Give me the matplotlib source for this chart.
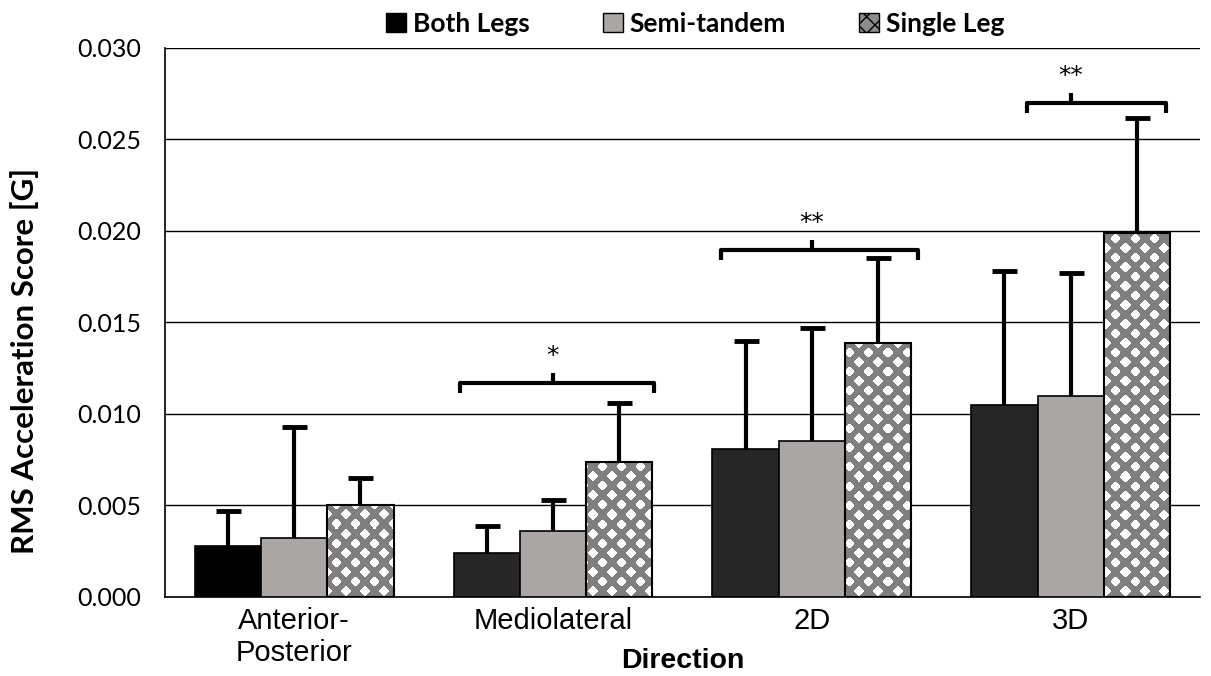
import numpy as np
import matplotlib
matplotlib.use('Agg')
import matplotlib.pyplot as plt
from matplotlib.patches import Patch

# data
directions = ['Anterior-\nPosterior', 'Mediolateral', '2D', '3D']
series = ['Both Legs', 'Semi-tandem', 'Single Leg']
both_legs = [0.0028, 0.0024, 0.0081, 0.0105]
semi_tandem = [0.0032, 0.0036, 0.0085, 0.0110]
single_leg = [0.0050, 0.0074, 0.0139, 0.0199]
both_sd = [0.0019, 0.0015, 0.0059, 0.0073]
semi_sd = [0.0061, 0.0017, 0.0062, 0.0067]
single_sd = [0.0015, 0.0032, 0.0046, 0.0063]

# significance brackets: (x start offset, x end offset, group, level, label)
brackets = [(-0.36, 0.39, 1, 0.01169, '*'),
            (-0.35, 0.41, 2, 0.01896, '**'),
            (-0.17, 0.37, 3, 0.0270, '**')]

LEFT, RIGHT, BOTTOM, TOP = 0.136, 0.991, 0.117, 0.929


def pattern(w, h, p=19.0, r=0.29, n=4.0):
	yy, xx = np.mgrid[0:h, 0:w].astype(float)
	a = (xx + yy) / p
	b = (xx - yy) / p
	da = np.abs(a - np.round(a))
	db = np.abs(b - np.round(b))
	white = (da ** n + db ** n) ** (1.0 / n) < r
	img = np.ones((h, w, 3)) * 0.5
	img[white] = 1.0
	return img


def main():
	fig = plt.figure(figsize=(12.11, 6.76), dpi=100)
	ax = fig.add_axes([LEFT, BOTTOM, RIGHT - LEFT, TOP - BOTTOM])

	x = np.arange(len(directions))
	bw = 0.256
	first_colors = ['#000000', '#262626', '#262626', '#262626']

	ax.bar(x - bw, both_legs, bw, color=first_colors, edgecolor='black', linewidth=1.2, zorder=3)
	ax.bar(x, semi_tandem, bw, color='#a9a6a5', edgecolor='black', linewidth=1.2, zorder=3)
	single = ax.bar(x + bw, single_leg, bw, color='none', edgecolor='black', linewidth=1.5, zorder=3)

	W = int(fig.get_figwidth() * fig.dpi * (RIGHT - LEFT))
	H = int(fig.get_figheight() * fig.dpi * (TOP - BOTTOM))
	img = pattern(W, H)
	for rect in single:
		im = ax.imshow(img, extent=[0, 1, 0, 1], transform=ax.transAxes,
				aspect='auto', interpolation='nearest', zorder=2)
		im.set_clip_path(rect)

	for off, vals, sd in [(-bw, both_legs, both_sd), (0, semi_tandem, semi_sd), (bw, single_leg, single_sd)]:
		eb = ax.errorbar(x + off, vals, yerr=[np.zeros(len(vals)), sd], fmt='none', ecolor='black',
				elinewidth=3, capsize=9, capthick=3.5, zorder=4)
		eb[1][0].set_visible(False)

	for x0, x1, g, lvl, lab in brackets:
		d = 0.00055
		ax.plot([g + x0, g + x0, g + x1, g + x1], [lvl - d, lvl, lvl, lvl - d], color='black',
				lw=3, solid_joinstyle='round', solid_capstyle='butt', zorder=5, clip_on=False)
		ax.plot([g, g], [lvl, lvl + d], color='black', lw=3, solid_capstyle='butt', zorder=5)
		ax.text(g, lvl + 0.0008, lab, ha='center', va='bottom', fontsize=18,
				family='DejaVu Sans', zorder=5)

	ax.set_xlim(-0.5, 3.5)
	ax.set_ylim(0, 0.030)
	ax.set_yticks(np.arange(0, 0.0301, 0.005))
	ax.set_yticklabels(['%.3f' % v for v in np.arange(0, 0.0301, 0.005)], fontsize=18, family='Lato')
	ax.set_xticks(x)
	ax.set_xticklabels(directions, fontsize=21, family='Liberation Sans', linespacing=1.2)
	ax.tick_params(axis='x', length=0, pad=7)
	ax.tick_params(axis='y', length=0, pad=17)
	ax.grid(axis='y', color='black', lw=1)
	ax.set_axisbelow(True)
	for s in ['top', 'right']:
		ax.spines[s].set_visible(False)
	ax.spines['left'].set_linewidth(1.2)
	ax.spines['bottom'].set_linewidth(1.2)

	ax.set_xlabel('Direction', fontsize=20.5, fontweight='bold', family='Liberation Sans')
	ax.xaxis.set_label_coords(0.5, -0.093)
	ax.set_ylabel('RMS Acceleration Score [G]', fontsize=22.5, fontweight='bold', family='Lato')
	ax.yaxis.set_label_coords(-0.121, 0.43)

	handles = [Patch(facecolor='black', edgecolor='black'),
			Patch(facecolor='#a9a6a5', edgecolor='black'),
			Patch(facecolor='#8c8c8c', edgecolor='black', hatch='xx')]
	fig.legend(handles, series, loc='upper center', bbox_to_anchor=(0.574, 1.018), ncol=3,
			frameon=False, prop={'family': 'Lato', 'weight': 'bold', 'size': 19},
			handlelength=0.76, handleheight=0.76, handletextpad=0.27, columnspacing=2.75)

	fig.savefig('out.png', dpi=100)


if __name__ == '__main__':
	main()
